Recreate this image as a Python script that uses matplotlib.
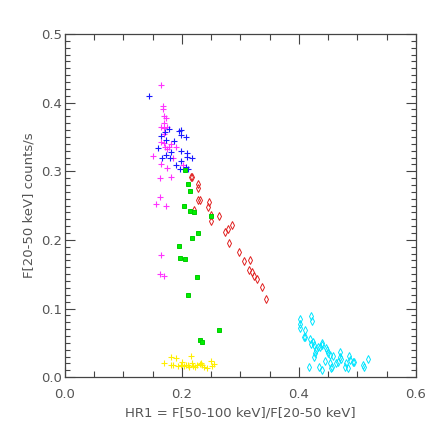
import matplotlib
matplotlib.use("Agg")
import matplotlib.pyplot as plt
from matplotlib.ticker import MultipleLocator

# Groups (HR1, F[20-50 keV])
mag_x = [0.164, 0.167, 0.168, 0.170, 0.172, 0.170, 0.164, 0.169, 0.174, 0.170,
         0.165, 0.169, 0.171, 0.175, 0.181, 0.178, 0.190, 0.151, 0.184, 0.165,
         0.174, 0.202, 0.162, 0.182, 0.162, 0.155, 0.173, 0.165, 0.162, 0.169]
mag_y = [0.425, 0.395, 0.390, 0.380, 0.378, 0.370, 0.364, 0.363, 0.364, 0.355,
         0.343, 0.341, 0.336, 0.333, 0.340, 0.336, 0.336, 0.322, 0.319, 0.310,
         0.305, 0.309, 0.290, 0.291, 0.263, 0.253, 0.250, 0.178, 0.150, 0.148]

blue_x = [0.144, 0.177, 0.165, 0.171, 0.195, 0.199, 0.199, 0.207, 0.187, 0.173,
          0.159, 0.182, 0.173, 0.166, 0.179, 0.198, 0.208, 0.208, 0.217, 0.199,
          0.190, 0.196, 0.207, 0.210]
blue_y = [0.410, 0.361, 0.351, 0.357, 0.359, 0.360, 0.353, 0.350, 0.344, 0.345,
          0.334, 0.328, 0.324, 0.320, 0.320, 0.329, 0.327, 0.321, 0.319, 0.315,
          0.309, 0.304, 0.306, 0.303]

green_x = [0.206, 0.210, 0.214, 0.203, 0.214, 0.221, 0.249, 0.228, 0.218, 0.195,
           0.196, 0.205, 0.226, 0.210, 0.264, 0.230, 0.235]
green_y = [0.302, 0.282, 0.271, 0.250, 0.242, 0.241, 0.235, 0.210, 0.203, 0.191,
           0.173, 0.172, 0.146, 0.119, 0.068, 0.054, 0.051]

red_x = [0.215, 0.218, 0.227, 0.227, 0.228, 0.231, 0.246, 0.244, 0.220, 0.249,
         0.264, 0.249, 0.285, 0.278, 0.274, 0.281, 0.297, 0.306, 0.316, 0.315,
         0.320, 0.324, 0.329, 0.337, 0.344]
red_y = [0.291, 0.292, 0.282, 0.275, 0.258, 0.258, 0.255, 0.248, 0.244, 0.236,
         0.235, 0.227, 0.221, 0.216, 0.212, 0.196, 0.182, 0.169, 0.170, 0.156,
         0.153, 0.148, 0.143, 0.131, 0.114]

yel_x = [0.181, 0.189, 0.216, 0.170, 0.182, 0.185, 0.200, 0.198, 0.204, 0.207,
         0.211, 0.217, 0.219, 0.223, 0.226, 0.230, 0.233, 0.235, 0.238, 0.242,
         0.250, 0.251, 0.254, 0.194, 0.212]
yel_y = [0.030, 0.028, 0.031, 0.020, 0.017, 0.018, 0.022, 0.017, 0.016, 0.018,
         0.017, 0.020, 0.016, 0.015, 0.017, 0.019, 0.021, 0.017, 0.015, 0.014,
         0.024, 0.016, 0.019, 0.016, 0.015]

cyan_x = [0.402, 0.402, 0.402, 0.420, 0.422, 0.411, 0.409, 0.411, 0.419, 0.424,
          0.421, 0.426, 0.440, 0.439, 0.436, 0.433, 0.447, 0.448, 0.429, 0.427,
          0.450, 0.453, 0.458, 0.471, 0.470, 0.472, 0.426, 0.444, 0.453, 0.456,
          0.454, 0.464, 0.467, 0.480, 0.478, 0.485, 0.488, 0.492, 0.494, 0.483,
          0.417, 0.434, 0.440, 0.510, 0.512, 0.518]
cyan_y = [0.084, 0.077, 0.071, 0.089, 0.082, 0.069, 0.058, 0.058, 0.056, 0.051,
          0.048, 0.047, 0.050, 0.047, 0.044, 0.044, 0.043, 0.040, 0.039, 0.035,
          0.035, 0.032, 0.031, 0.037, 0.030, 0.027, 0.030, 0.023, 0.020, 0.015,
          0.013, 0.020, 0.022, 0.020, 0.015, 0.031, 0.025, 0.022, 0.022, 0.013,
          0.015, 0.015, 0.011, 0.017, 0.015, 0.026]

txt = '#555555'

fig = plt.figure(figsize=(4.36, 4.36), dpi=100)
ax = fig.add_axes([0.149, 0.135, 0.805, 0.787])

ax.plot(mag_x, mag_y, '+', color='#ff33ff', ms=4.5, mew=0.8)
ax.plot(blue_x, blue_y, '+', color='#1a1aff', ms=4.5, mew=0.8)
ax.plot(yel_x, yel_y, '+', color='#ffee00', ms=4.5, mew=0.8)
ax.plot(red_x, red_y, 'd', color='#e02020', ms=3.8, mew=0.7, fillstyle='none')
ax.plot(cyan_x, cyan_y, 'd', color='#00e5ff', ms=3.8, mew=0.7, fillstyle='none')
ax.plot(green_x, green_y, 's', color='#00ee00', ms=3, mec='#00cc00', mew=0.7)

ax.set_xlim(0, 0.6)
ax.set_ylim(0, 0.5)
ax.xaxis.set_major_locator(MultipleLocator(0.2))
ax.xaxis.set_minor_locator(MultipleLocator(0.05))
ax.yaxis.set_major_locator(MultipleLocator(0.1))
ax.yaxis.set_minor_locator(MultipleLocator(0.01))
ax.xaxis.set_major_formatter(plt.FormatStrFormatter('%.1f'))
ax.yaxis.set_major_formatter(plt.FormatStrFormatter('%.1f'))

ax.tick_params(which='both', direction='in', top=True, right=True, colors='#444444',
               labelcolor=txt, labelsize=9.5, width=0.8)
ax.tick_params(axis='x', which='major', length=7, pad=8)
ax.tick_params(axis='x', which='minor', length=4)
ax.tick_params(axis='y', which='major', length=7, pad=2)
ax.tick_params(axis='y', which='minor', length=3.5)
for s in ax.spines.values():
    s.set_color('#444444')
    s.set_linewidth(0.9)

ax.set_xlabel('HR1 = F[50-100 keV]/F[20-50 keV]', color=txt, fontsize=9.5, labelpad=4)
ax.set_ylabel('F[20-50 keV] counts/s', color=txt, fontsize=9.5, labelpad=4)

fig.savefig('out.png', dpi=100)
